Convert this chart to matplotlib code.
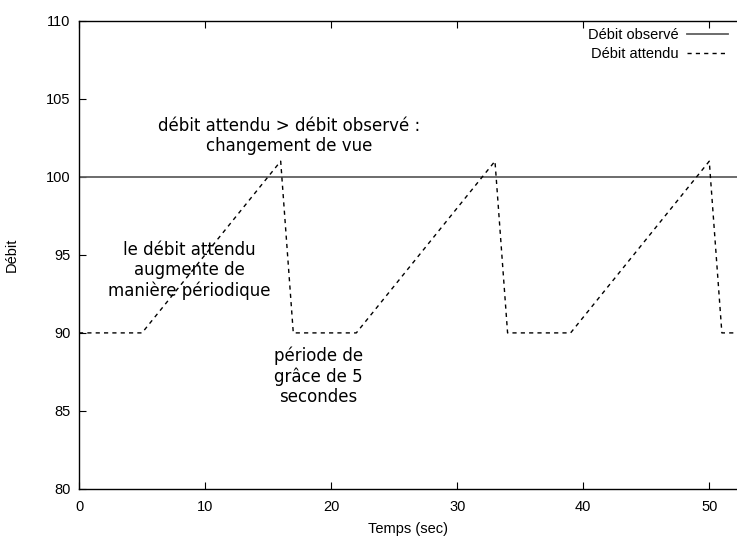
import matplotlib
matplotlib.use("Agg")
import matplotlib.pyplot as plt

# data
obs_x = [0, 52.2]
obs_y = [100, 100]
att_x = [0, 5, 16, 17, 22, 33, 34, 39, 50, 51, 52.2]
att_y = [90, 90, 101, 90, 90, 101, 90, 90, 101, 90, 90]
xticks = [0, 10, 20, 30, 40, 50]
yticks = [80, 85, 90, 95, 100, 105, 110]

W, H = 737, 537
fig = plt.figure(figsize=(W / 100, H / 100), dpi=100)
left, right, top, bottom = 79, 737, 20.7, 489
ax = fig.add_axes([left / W, 1 - bottom / H, (right - left) / W, (bottom - top) / H])

ax.plot(obs_x, obs_y, color="#606060", lw=1.3, label="Débit observé")
ax.plot(att_x, att_y, color="black", lw=1.0, dashes=(3, 3), label="Débit attendu")

ax.set_xlim(0, 52.2)
ax.set_ylim(80, 110)
ax.set_xticks(xticks)
ax.set_yticks(yticks)
ax.spines["right"].set_visible(False)
for s in ["left", "top", "bottom"]:
    ax.spines[s].set_linewidth(1.0)
ax.tick_params(direction="in", length=5, top=True, right=False, labelsize=10.5)
ax.tick_params(axis="x", pad=8)
ax.tick_params(axis="y", pad=6)
for lab in ax.get_xticklabels() + ax.get_yticklabels():
    lab.set_family("Liberation Sans")

ax.set_xlabel("Temps (sec)", fontsize=10.5, family="Liberation Sans", labelpad=6)
ax.set_ylabel("Débit", fontsize=10.5, family="Liberation Sans", labelpad=20)

txt = dict(fontsize=12, ha="center", va="center", linespacing=1.15, family="DejaVu Sans")
ax.text(16.7, 102.64, "débit attendu > débit observé :\nchangement de vue", **txt)
ax.text(8.73, 93.99, "le débit attendu\naugmente de\nmanière périodique", **txt)
ax.text(19.0, 87.2, "période de\ngrâce de 5\nsecondes", **txt)

leg = fig.legend(loc="upper right", bbox_to_anchor=(728 / W, 1 - 28 / H), frameon=False,
                 markerfirst=False, handlelength=2.8, handletextpad=0.6,
                 labelspacing=0.35, prop={"family": "Liberation Sans", "size": 10.5},
                 borderaxespad=0, borderpad=0)
for t in leg.get_texts():
    t.set_ha("right")

fig.savefig("out.png", dpi=100)
